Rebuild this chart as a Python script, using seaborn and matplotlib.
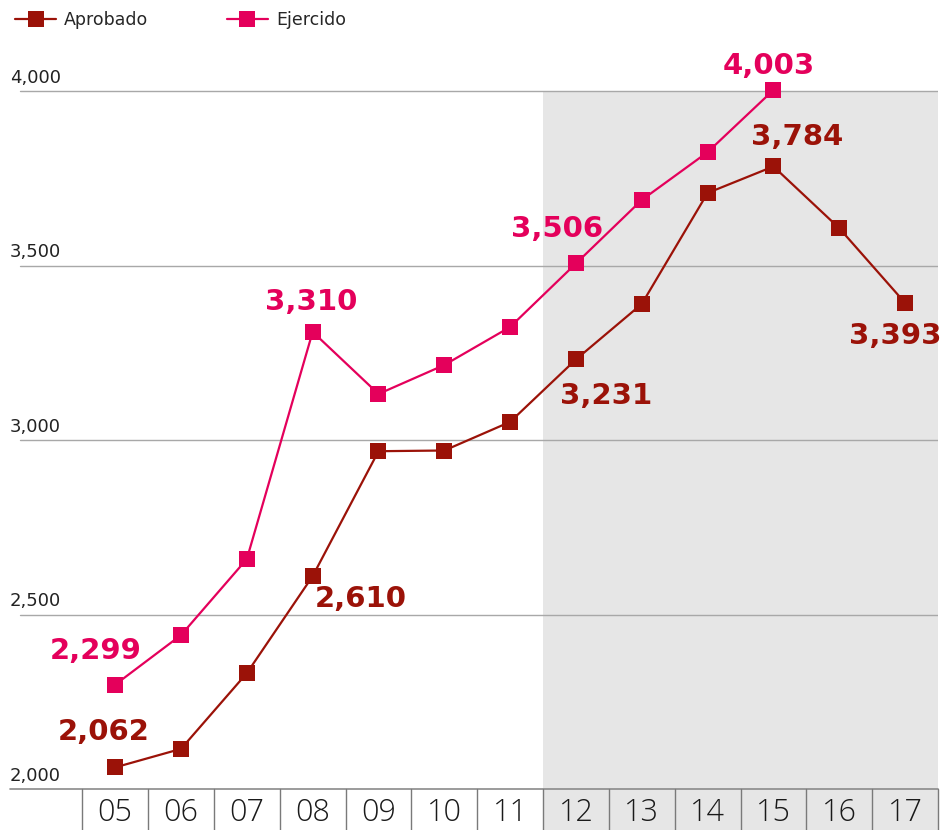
# %%
# Libraries
import matplotlib
matplotlib.use("Agg")
import matplotlib.pyplot as plt
import matplotlib.transforms as mtransforms
from matplotlib.patches import Rectangle
from matplotlib.lines import Line2D
import seaborn as sns
import pandas as pd

# %%
# Data
anios = ["05", "06", "07", "08", "09", "10", "11", "12", "13", "14", "15", "16", "17"]
aprobado = [2062, 2115, 2332, 2610, 2968, 2970, 3052, 3231, 3390, 3708, 3784, 3607, 3393]
ejercido = [2299, 2441, 2659, 3310, 3132, 3215, 3324, 3506, 3688, 3825, 4003]
yticks = [2000, 2500, 3000, 3500, 4000]

# labels shown on the chart: (index, dx px, dy px)
etiquetas_aprobado = [(0, -12, 35), (3, 48, -23), (7, 30, -37), (10, 24, 29), (12, -10, -33)]
etiquetas_ejercido = [(0, -20, 34), (3, -1, 30), (7, -19, 34), (10, -5, 24)]

col_apr = "#9b1208"
col_eje = "#e4005b"

df = pd.DataFrame({
    "anio": list(range(len(aprobado))) + list(range(len(ejercido))),
    "valor": aprobado + ejercido,
    "serie": ["Aprobado"] * len(aprobado) + ["Ejercido"] * len(ejercido),
})

# %%
sns.set_style("white")
plt.rcParams["font.family"] = ["Open Sans", "DejaVu Sans"]

fig = plt.figure(figsize=(9.41, 8.3), dpi=100)
ax = fig.add_axes([0, 41 / 830, 938 / 941, 789 / 830])

ax.set_xlim(-1.75, 12.5)
ax.set_ylim(2000, 4261)

# shaded period 12-17
ax.add_patch(Rectangle((6.5, 2000), 6, 2000, color="#e6e6e6", lw=0, zorder=0))

# gridlines and y labels
ytrans = mtransforms.blended_transform_factory(ax.transAxes, ax.transData)
for t in yticks:
    if t == 2000:
        ax.axhline(t, xmin=10 / 938, color="#8a8a8a", lw=1.2, zorder=1, clip_on=False)
    else:
        ax.axhline(t, xmin=20 / 938, color="#a8a8a8", lw=1.0, zorder=1)
    ax.text(10 / 938, t + 12, f"{t:,}", transform=ytrans, fontsize=13,
            family="DejaVu Sans", color="#222222", ha="left", va="bottom")

sns.lineplot(data=df, x="anio", y="valor", hue="serie", style="serie",
             palette={"Aprobado": col_apr, "Ejercido": col_eje},
             markers={"Aprobado": "s", "Ejercido": "s"}, dashes=False,
             markersize=11, markeredgewidth=0, linewidth=1.6,
             legend=False, ax=ax, zorder=3)

for i, dx, dy in etiquetas_aprobado:
    ax.annotate(f"{aprobado[i]:,}", (i, aprobado[i]), xytext=(dx * 0.72, dy * 0.72),
                textcoords="offset points", ha="center", va="center",
                fontsize=21, fontweight="bold", family="DejaVu Sans",
                color=col_apr, zorder=4)
for i, dx, dy in etiquetas_ejercido:
    ax.annotate(f"{ejercido[i]:,}", (i, ejercido[i]), xytext=(dx * 0.72, dy * 0.72),
                textcoords="offset points", ha="center", va="center",
                fontsize=21, fontweight="bold", family="DejaVu Sans",
                color=col_eje, zorder=4)

# bottom row of year boxes
xt = ax.get_xaxis_transform()
row = -41 / 789
ax.add_patch(Rectangle((6.5, row), 6, -row, transform=xt, color="#e6e6e6",
                       lw=0, clip_on=False, zorder=0))
for k in range(len(anios) + 1):
    ax.plot([k - 0.5, k - 0.5], [row, 0], transform=xt, color="#7a7a7a",
            lw=1.0, clip_on=False, zorder=2)
for k, a in enumerate(anios):
    ax.text(k, row / 2 - 0.004, a, transform=xt, ha="center", va="center",
            fontsize=22, fontweight="light", color="#1a1a1a", clip_on=False)

ax.set_xticks([])
ax.set_yticks([])
ax.set_xlabel("")
ax.set_ylabel("")
sns.despine(ax=ax, left=True, bottom=True)

# legend
handles = [
    Line2D([], [], color=col_apr, marker="s", markersize=11, lw=1.6, markeredgewidth=0),
    Line2D([], [], color=col_eje, marker="s", markersize=11, lw=1.6, markeredgewidth=0),
]
fig.legend(handles, ["Aprobado", "Ejercido"], loc="upper left",
           bbox_to_anchor=(-0.001, 1.006), ncol=2, frameon=False,
           prop={"size": 12.5, "family": "DejaVu Sans"},
           handlelength=2.4, handletextpad=0.45, columnspacing=4.5)

fig.savefig("out.png", dpi=100)
